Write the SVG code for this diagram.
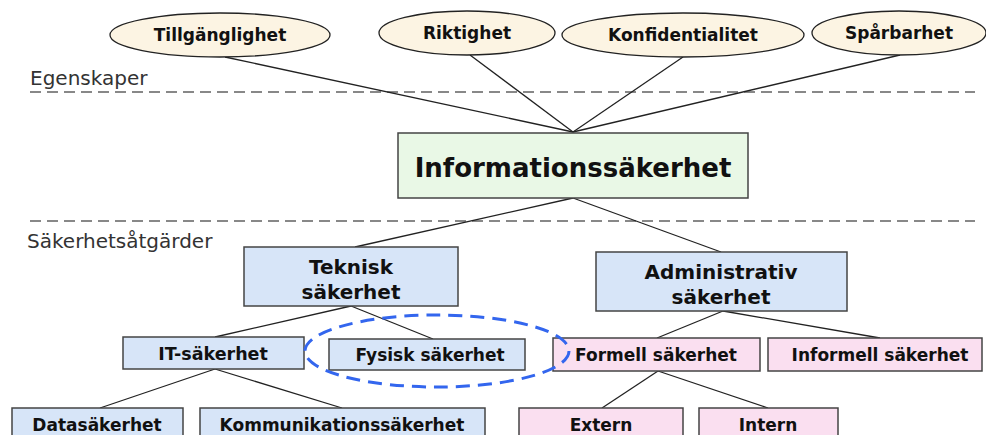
<svg xmlns="http://www.w3.org/2000/svg" width="986" height="435" viewBox="0 0 986 435">
<style>
text{font-family:"DejaVu Sans",Verdana,sans-serif;fill:#111}
.b{font-weight:bold;text-anchor:middle}
.lbl{font-size:20px;fill:#333}
.ell{fill:#fcf4e3;stroke:#222;stroke-width:1.3}
.blue{fill:#d7e5f8;stroke:#444;stroke-width:1.5}
.pink{fill:#fadff0;stroke:#444;stroke-width:1.5}
.green{fill:#e9f8e6;stroke:#444;stroke-width:1.5}
.sep{stroke:#888;stroke-width:2;stroke-dasharray:11 6}
#connectors line{stroke:#222;stroke-width:1.3}
</style>
<rect width="986" height="435" fill="#fff"/>
<text x="30" y="85" class="lbl">Egenskaper</text>
<line class="sep" x1="30" y1="92" x2="975" y2="92"/>
<text x="27" y="248" class="lbl">Säkerhetsåtgärder</text>
<line class="sep" x1="30" y1="221" x2="975" y2="221"/>
<g id="connectors">
<line x1="225" y1="57" x2="573" y2="132"/>
<line x1="470" y1="55" x2="573" y2="132"/>
<line x1="683" y1="57" x2="573" y2="132"/>
<line x1="900" y1="55" x2="573" y2="132"/>
<line x1="573" y1="198" x2="355" y2="247"/>
<line x1="573" y1="198" x2="721" y2="252"/>
<line x1="351" y1="306" x2="215" y2="337"/>
<line x1="351" y1="306" x2="433" y2="339"/>
<line x1="723" y1="311" x2="657" y2="338"/>
<line x1="723" y1="311" x2="880" y2="338"/>
<line x1="215" y1="369" x2="100" y2="408"/>
<line x1="215" y1="369" x2="342" y2="408"/>
<line x1="658" y1="371" x2="602" y2="408"/>
<line x1="658" y1="371" x2="768" y2="408"/>
</g>
<g id="tillganglighet"><ellipse class="ell" cx="220" cy="35" rx="110" ry="22"/><text class="b" x="220" y="41" font-size="17">Tillgänglighet</text></g>
<g id="riktighet"><ellipse class="ell" cx="467" cy="33" rx="88" ry="22"/><text class="b" x="467" y="39" font-size="17">Riktighet</text></g>
<g id="konfidentialitet"><ellipse class="ell" cx="683" cy="35" rx="121" ry="22"/><text class="b" x="683" y="41" font-size="17">Konfidentialitet</text></g>
<g id="sparbarhet"><ellipse class="ell" cx="899" cy="33" rx="87" ry="22"/><text class="b" x="899" y="39" font-size="17">Spårbarhet</text></g>
<g id="informationssakerhet"><rect class="green" x="398" y="133" width="350" height="65"/><text class="b" x="573" y="177" font-size="26">Informationssäkerhet</text></g>
<g id="teknisk"><rect class="blue" x="244" y="247" width="214" height="59"/><text class="b" x="351" y="274" font-size="20">Teknisk</text><text class="b" x="351" y="299" font-size="20">säkerhet</text></g>
<g id="administrativ"><rect class="blue" x="596" y="252" width="251" height="59"/><text class="b" x="721" y="279" font-size="20">Administrativ</text><text class="b" x="721" y="304" font-size="20">säkerhet</text></g>
<g id="it"><rect class="blue" x="123" y="337" width="181" height="32"/><text class="b" x="213" y="360" font-size="17.5">IT-säkerhet</text></g>
<g id="fysisk"><rect class="blue" x="329" y="339" width="196" height="31"/><text class="b" x="430" y="361" font-size="17">Fysisk säkerhet</text></g>
<g id="formell"><rect class="pink" x="553" y="338" width="207" height="33"/><text class="b" x="656" y="361" font-size="17">Formell säkerhet</text></g>
<g id="informell"><rect class="pink" x="768" y="338" width="214" height="33"/><text class="b" x="880" y="361" font-size="17">Informell säkerhet</text></g>
<g id="data"><rect class="blue" x="12" y="408" width="171" height="40"/><text class="b" x="97" y="431" font-size="17">Datasäkerhet</text></g>
<g id="kommunikation"><rect class="blue" x="200" y="408" width="285" height="40"/><text class="b" x="342" y="431" font-size="17">Kommunikationssäkerhet</text></g>
<g id="extern"><rect class="pink" x="519" y="408" width="164" height="40"/><text class="b" x="601" y="431" font-size="17">Extern</text></g>
<g id="intern"><rect class="pink" x="699" y="408" width="139" height="40"/><text class="b" x="768" y="431" font-size="17">Intern</text></g>
<ellipse id="highlight" cx="437" cy="351" rx="132" ry="36" fill="none" stroke="#3366ee" stroke-width="3" stroke-dasharray="14 8"/>
</svg>
